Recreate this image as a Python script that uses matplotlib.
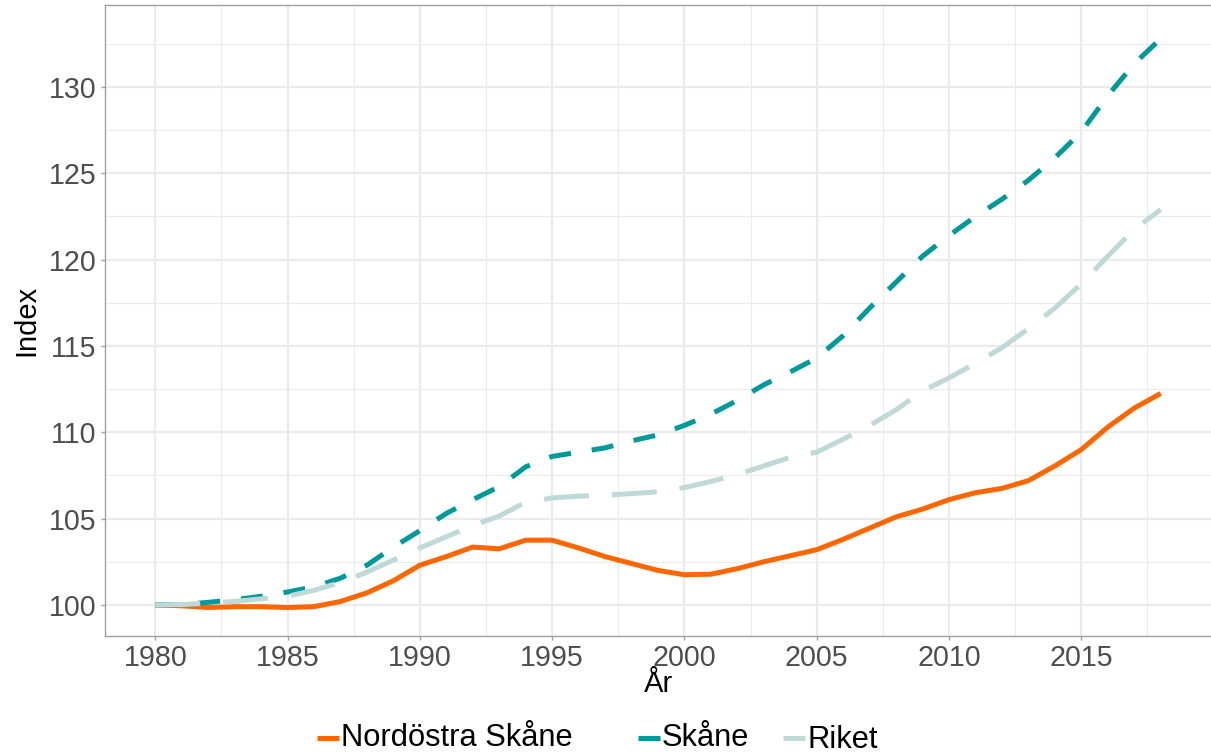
import matplotlib
matplotlib.use("Agg")
import matplotlib.pyplot as plt
from matplotlib.lines import Line2D
from matplotlib.ticker import MultipleLocator

plt.rcParams['font.family'] = ['Liberation Sans', 'DejaVu Sans']

years = list(range(1980, 2019))

nordostra_skane = [100.0, 99.95, 99.85, 99.9, 99.9, 99.85, 99.9, 100.2, 100.7, 101.4,
                   102.3, 102.8, 103.35, 103.25, 103.75, 103.75, 103.3, 102.8, 102.4, 102.0,
                   101.75, 101.78, 102.1, 102.5, 102.85, 103.2, 103.8, 104.45, 105.1, 105.55,
                   106.1, 106.5, 106.75, 107.2, 108.05, 109.0, 110.3, 111.4, 112.25]

skane = [100.0, 100.02, 100.15, 100.3, 100.5, 100.75, 101.05, 101.55, 102.3, 103.35,
         104.3, 105.3, 106.1, 106.85, 108.0, 108.6, 108.85, 109.1, 109.5, 109.85,
         110.4, 111.05, 111.85, 112.75, 113.5, 114.3, 115.6, 117.2, 118.7, 120.2,
         121.4, 122.5, 123.5, 124.6, 125.9, 127.4, 129.5, 131.35, 132.8]

riket = [100.0, 100.02, 100.1, 100.2, 100.35, 100.5, 100.85, 101.3, 101.9, 102.6,
         103.3, 103.95, 104.6, 105.15, 105.95, 106.2, 106.3, 106.35, 106.45, 106.55,
         106.8, 107.15, 107.55, 108.05, 108.55, 108.85, 109.6, 110.4, 111.3, 112.4,
         113.15, 114.0, 114.9, 116.0, 117.2, 118.6, 120.2, 121.75, 122.9]

series_names = ["Nordöstra Skåne", "Skåne", "Riket"]
x_ticks = [1980, 1985, 1990, 1995, 2000, 2005, 2010, 2015]
y_ticks = [100, 105, 110, 115, 120, 125, 130]

orange = "#FF6600"
teal = "#009999"
light = "#BFD8D8"
lw = 3.6

fig = plt.figure(figsize=(12.11, 7.52), dpi=100)
ax = fig.add_axes([105 / 1211, 1 - 636 / 752, 1 - 105 / 1211, (636 - 5) / 752])

ax.plot(years, nordostra_skane, color=orange, lw=lw, solid_capstyle='butt',
        solid_joinstyle='round', zorder=3)
ax.plot(years, skane, color=teal, lw=lw, dashes=(4.4, 4.2), dash_capstyle='butt',
        zorder=4)
ax.plot(years, riket, color=light, lw=lw, dashes=(9.0, 4.6), dash_capstyle='butt',
        zorder=5)

ax.set_xlim(1978.1, 2019.9)
ax.set_ylim(98.2, 134.75)
ax.set_xticks(x_ticks)
ax.set_yticks(y_ticks)
ax.xaxis.set_minor_locator(MultipleLocator(2.5))
ax.yaxis.set_minor_locator(MultipleLocator(2.5))

ax.grid(which='major', color='#EBEBEB', lw=1.6, zorder=0)
ax.grid(which='minor', color='#EBEBEB', lw=0.8, zorder=0)
ax.set_axisbelow(True)

for side in ['left', 'bottom', 'top']:
    ax.spines[side].set_color('#A0A0A0')
    ax.spines[side].set_linewidth(1.0)
ax.spines['right'].set_visible(False)

ax.tick_params(axis='both', which='major', length=3, width=1.0, color='#A0A0A0',
               labelcolor='#4D4D4D', labelsize=20.6, pad=3)
ax.tick_params(axis='both', which='minor', length=0)

ax.set_xlabel("År", fontsize=21, color='black', labelpad=-2)
ax.set_ylabel("Index", fontsize=21, color='black', labelpad=6)

# legend entries along the bottom
colors = [orange, teal, light]
key_x = [317, 638, 783]
y_leg = 1 - 738 / 752
for name, c, kx in zip(series_names, colors, key_x):
    fig.add_artist(Line2D([kx / 1211, (kx + 22) / 1211], [y_leg, y_leg],
                          color=c, lw=lw, solid_capstyle='butt',
                          transform=fig.transFigure))
    dy = -2 / 752 if name == "Riket" else 0
    fig.text((kx + 24) / 1211, y_leg + dy, name, fontsize=22.2, color='black',
             ha='left', va='center')

fig.savefig("out.png", dpi=100)
